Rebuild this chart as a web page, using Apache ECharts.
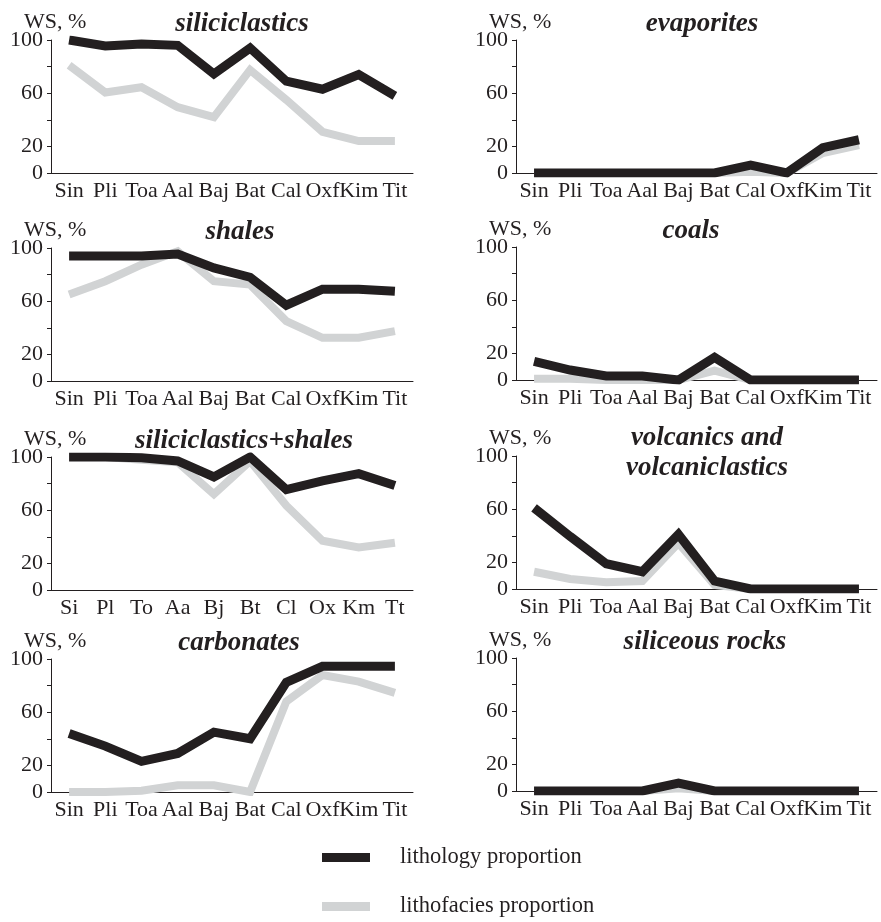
<!DOCTYPE html>
<html>
<head>
<meta charset="utf-8">
<title>WS by lithology</title>
<script src="https://cdn.jsdelivr.net/npm/echarts@6/dist/echarts.min.js"></script>
<style>
    html, body { margin: 0; padding: 0; background: #fff; }
    #chart { width: 881px; height: 922px; }
</style>
</head>
<body>
<div id="chart"></div>
<script>
// stage names on the x axes
let stages = ["Sin", "Pli", "Toa", "Aal", "Baj", "Bat", "Cal", "Oxf", "Kim", "Tit"]
let stagesShort = ["Si", "Pl", "To", "Aa", "Bj", "Bt", "Cl", "Ox", "Km", "Tt"]

// y tick labels that are printed (ticks every 20)
let yTickLabels = [0, 20, 60, 100]

// WS, % values
let siliciclasticsLitho = [100, 95.5, 97, 96, 74.5, 94, 69, 63, 74, 58]
let siliciclasticsFacies = [81, 60.5, 64.5, 49.5, 42, 77.5, 55, 31, 24, 24]

let evaporitesLitho = [0, 0, 0, 0, 0, 0, 6, 0, 19, 25]
let evaporitesFacies = [0, 0, 0, 0, 0, 0, 1, 0, 15, 21]

let shalesLitho = [94, 94, 94, 95.5, 85, 78, 57, 69, 69, 67.5]
let shalesFacies = [65, 75, 87.5, 97.5, 75, 72.5, 45, 32.5, 32.5, 37.5]

let coalsLitho = [14, 7.5, 3, 3, 0, 17, 0, 0, 0, 0]
let coalsFacies = [1, 1, 0, 0, 0, 7, 0, 0, 0, 0]

let silShalesLitho = [100, 100, 99.5, 97, 85, 100, 75.5, 82, 87.5, 78.5]
let silShalesFacies = [100, 100, 98, 96, 72, 97, 63.5, 37, 32, 35.5]

let volcanicsLitho = [61, 39.5, 19, 13, 41, 6, 0, 0, 0, 0]
let volcanicsFacies = [13, 7.5, 5, 6, 34.5, 3, 0, 0, 0, 0]

let carbonatesLitho = [44, 34.5, 23, 29, 45, 40, 82.5, 94.5, 94.5, 94.5]
let carbonatesFacies = [0, 0, 1, 5, 5, 0, 68, 88, 83, 74.5]

let siliceousLitho = [0, 0, 0, 0, 6, 0, 0, 0, 0, 0]
let siliceousFacies = [0, 0, 0, 0, 2, 0, 0, 0, 0, 0]

let lithoName = "lithology proportion"
let faciesName = "lithofacies proportion"

let panels = [
    { title: "siliciclastics", cats: stages, litho: siliciclasticsLitho, facies: siliciclasticsFacies, left: 51, width: 362, top: 40, titleX: 242 },
    { title: "evaporites", cats: stages, litho: evaporitesLitho, facies: evaporitesFacies, left: 516, width: 361, top: 40, titleX: 702 },
    { title: "shales", cats: stages, litho: shalesLitho, facies: shalesFacies, left: 51, width: 362, top: 248, titleX: 240 },
    { title: "coals", cats: stages, litho: coalsLitho, facies: coalsFacies, left: 516, width: 361, top: 247, titleX: 691 },
    { title: "siliciclastics+shales", cats: stagesShort, litho: silShalesLitho, facies: silShalesFacies, left: 51, width: 362, top: 457, titleX: 244 },
    { title: "volcanics and\nvolcaniclastics", cats: stages, litho: volcanicsLitho, facies: volcanicsFacies, left: 516, width: 361, top: 456, titleX: 707 },
    { title: "carbonates", cats: stages, litho: carbonatesLitho, facies: carbonatesFacies, left: 51, width: 362, top: 659, titleX: 239 },
    { title: "siliceous rocks", cats: stages, litho: siliceousLitho, facies: siliceousFacies, left: 516, width: 361, top: 658, titleX: 705 }
]

let ink = "#231f20"
let grey = "#d1d3d4"
let font = "Liberation Serif"

let grids = []
let xAxes = []
let yAxes = []
let series = []
let graphics = []

panels.forEach((p, i) => {
    grids.push({ left: p.left, top: p.top, width: p.width, height: 133 })
    xAxes.push({
        type: "category",
        gridIndex: i,
        data: p.cats,
        boundaryGap: true,
        axisLine: { lineStyle: { color: ink, width: 1 } },
        axisTick: { length: 4, lineStyle: { color: ink } },
        axisLabel: { interval: 0, margin: 7, color: ink, fontFamily: font, fontSize: 22 }
    })
    yAxes.push({
        type: "value",
        gridIndex: i,
        min: 0,
        max: 100,
        interval: 20,
        splitLine: { show: false },
        axisLine: { show: true, lineStyle: { color: ink, width: 1 } },
        axisTick: { show: true, length: 4, lineStyle: { color: ink } },
        axisLabel: {
            margin: 8,
            color: ink,
            fontFamily: font,
            fontSize: 22,
            formatter: v => yTickLabels.includes(v) ? String(v) : ""
        }
    })
    series.push({
        name: faciesName,
        type: "line",
        xAxisIndex: i,
        yAxisIndex: i,
        data: p.facies,
        color: grey,
        showSymbol: false,
        symbol: "none",
        lineStyle: { color: grey, width: 8, join: "miter", cap: "butt" },
        silent: true,
        animation: false
    })
    series.push({
        name: lithoName,
        type: "line",
        xAxisIndex: i,
        yAxisIndex: i,
        data: p.litho,
        color: ink,
        showSymbol: false,
        symbol: "none",
        lineStyle: { color: ink, width: 9, join: "miter", cap: "butt" },
        silent: true,
        animation: false
    })
    let wsX = p.left < 100 ? 24 : 489
    graphics.push({
        type: "text",
        left: wsX,
        top: p.top - 29,
        style: { text: "WS, %", fill: ink, font: "22px " + font }
    })
    let multi = p.title.indexOf("\n") >= 0
    graphics.push({
        type: "text",
        x: p.titleX,
        y: multi ? p.top - 3 : p.top - 16,
        style: {
            text: p.title,
            fill: ink,
            font: "italic bold 27px " + font,
            align: "center",
            verticalAlign: "middle",
            lineHeight: 30
        }
    })
})

let myChart = echarts.init(document.getElementById("chart"))
myChart.setOption({
    animation: false,
    grid: grids,
    xAxis: xAxes,
    yAxis: yAxes,
    series: series,
    graphic: graphics,
    legend: {
        data: [lithoName, faciesName],
        orient: "vertical",
        left: 322,
        top: 846,
        padding: 0,
        itemWidth: 48,
        itemHeight: 9,
        itemGap: 26,
        icon: "rect",
        selectedMode: false,
        textStyle: { color: ink, fontFamily: font, fontSize: 22.5, padding: [0, 0, 0, 25] }
    }
})
</script>
</body>
</html>
